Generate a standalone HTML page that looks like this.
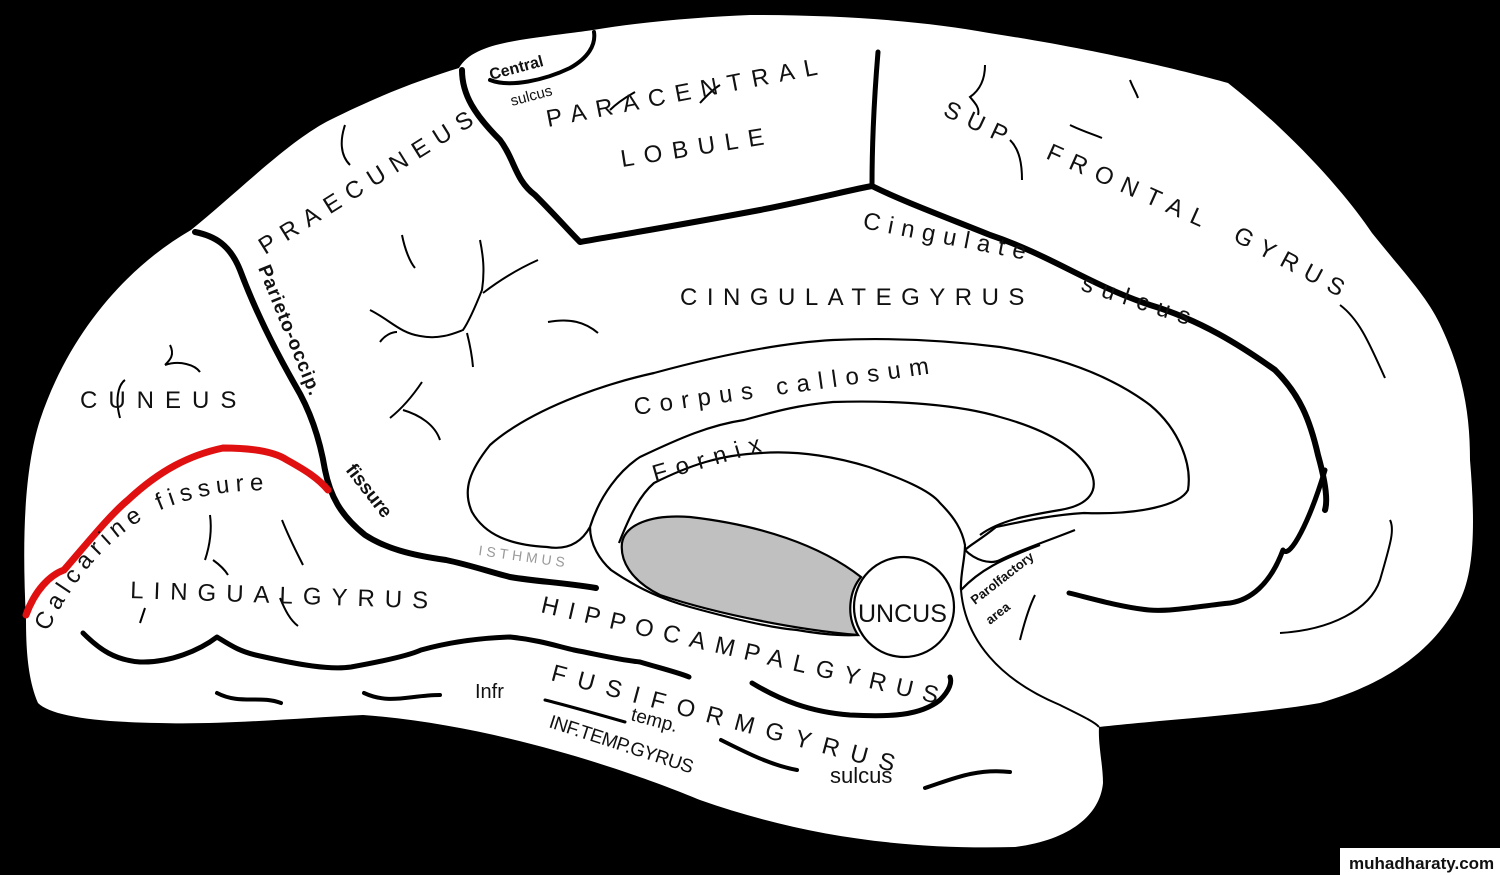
<!DOCTYPE html>
<html><head><meta charset="utf-8"><style>
html,body{margin:0;padding:0;background:#000;}
svg{display:block}
text{font-family:"Liberation Sans",sans-serif;fill:#111;}
</style></head><body>
<svg width="1500" height="875" viewBox="0 0 1500 875" xmlns="http://www.w3.org/2000/svg">
<rect width="1500" height="875" fill="#000"/>
<path d="M26,620 C22,540 24,470 40,420 C70,330 130,265 191,230 C240,190 290,140 330,120 C380,95 420,80 459,68 C468,52 490,45 520,40 C560,34 580,32 593,30 C640,22 700,17 750,15 C850,15 930,22 989,33 C1100,50 1180,70 1228,83 C1300,140 1350,200 1372,233 C1410,280 1430,300 1444,333 C1465,380 1470,420 1470,460 C1475,520 1475,570 1460,600 C1440,640 1400,680 1320,703 C1250,715 1160,720 1099,727 C1098,745 1103,765 1103,783 C1100,815 1070,840 1015,847 C900,850 800,835 700,800 C640,775 500,725 363,715 C300,718 220,725 159,723 C90,722 50,715 38,703 C28,680 26,650 26,620 Z" fill="#fff"/>
<!-- central sulcus -->
<path d="M490,80 C510,88 545,80 570,68 C588,58 596,45 594,32" fill="none" stroke="#000" stroke-width="4" stroke-linecap="round"/>
<g fill="none" stroke="#000" stroke-linecap="round" stroke-linejoin="round">
<path d="M462,70 C462,95 475,115 500,140 C515,160 515,180 535,195 C555,215 570,232 580,242 C620,235 680,225 760,210 C820,198 850,190 872,186 C900,200 940,215 990,235 C1050,255 1090,285 1150,305 C1200,320 1240,345 1275,370 C1300,395 1310,420 1318,455 C1325,480 1328,500 1325,510" stroke-width="6"/>
<path d="M872,186 C872,150 874,100 878,52" stroke-width="5"/>
<path d="M1325,470 C1310,520 1290,560 1283,550 C1270,585 1250,600 1230,603 C1200,606 1170,612 1149,610 C1120,607 1090,598 1069,593" stroke-width="5"/>
<path d="M195,232 C215,236 230,245 240,270 C255,310 275,350 295,385 C310,410 320,440 325,470 C330,495 340,515 365,535 C385,548 410,555 446,560 C470,565 490,572 510,577 C540,582 560,582 596,588" stroke-width="6"/>
<path d="M83,633 C100,650 115,660 140,662 C170,663 200,650 217,637 C230,645 240,652 260,656 C300,665 330,670 351,667 C390,660 410,655 421,650 C450,642 480,638 510,637 C540,640 560,647 574,650 C600,655 620,660 640,662 C660,668 680,673 689,677" stroke-width="5"/>
<path d="M217,693 C240,705 260,695 281,703" stroke-width="4"/>
<path d="M364,693 C390,705 410,695 440,695" stroke-width="4"/>
<path d="M545,700 C565,705 590,712 625,722" stroke-width="3"/>
<path d="M721,740 C745,752 770,765 797,770" stroke-width="4"/>
<path d="M925,788 C950,780 975,768 1010,772" stroke-width="4"/>
<path d="M752,683 C780,700 810,712 850,715 C890,717 920,716 940,700 C950,690 952,682 950,677" stroke-width="5"/>
</g>
<path d="M26,615 C35,590 50,575 64,570 C90,540 110,515 128,500 C160,470 190,455 223,448 C255,448 275,452 287,460 C305,470 318,478 328,490" fill="none" stroke="#e01010" stroke-width="7" stroke-linecap="round"/>
<g fill="none" stroke="#000" stroke-width="2.2">
<path d="M590,527 C580,545 565,550 547,547 C510,545 485,535 472,512 C462,490 470,470 490,445 C530,410 600,385 654,373 C720,355 780,343 833,340 C900,337 960,342 1000,347 C1060,357 1110,375 1150,405 C1180,430 1192,465 1188,490 C1180,505 1140,515 1084,513 C1050,515 1020,522 996,527 C980,540 970,545 965,550"/>
<path d="M590,527 C600,495 620,470 640,457 C680,438 710,425 744,420 C780,410 800,405 833,402 C900,400 960,405 1000,417 C1040,428 1075,445 1090,470 C1100,490 1090,505 1060,510 C1030,515 1000,520 980,535"/>
<path d="M619,543 C630,515 640,495 654,483 C690,465 720,455 761,453 C800,450 840,458 869,467 C900,478 930,490 940,503 C955,518 962,530 965,545 C965,560 960,575 961,590"/>
<path d="M590,527 C590,545 600,560 611,570 C640,590 665,600 690,607 C730,618 770,628 797,630 C820,634 840,636 858,635"/>
<path d="M965,550 C975,560 990,565 1000,560 C1020,550 1050,540 1075,530"/>
<path d="M961,590 C980,570 1000,560 1040,545"/>
</g>
<path d="M622,543 C625,525 650,514 690,517 C760,525 820,545 861,577 C850,590 845,615 858,635 C800,630 720,615 660,595 C630,580 620,560 622,543 Z" fill="#c0c0c0" stroke="#000" stroke-width="2.2"/>
<circle cx="904" cy="607" r="50" fill="#fff" stroke="#000" stroke-width="2.2"/>
<path d="M961,590 C965,640 1000,680 1060,705 C1080,715 1095,722 1099,727" fill="none" stroke="#000" stroke-width="2"/>
<g fill="none" stroke="#000" stroke-width="2">
<path d="M370,310 C390,320 400,333 420,336 C440,340 455,333 463,330 C470,320 478,300 482,290 C485,270 483,255 480,240"/>
<path d="M483,293 C500,280 520,268 538,260"/>
<path d="M467,333 C470,345 472,355 473,367"/>
<path d="M380,342 C385,335 392,332 397,332"/>
<path d="M548,322 C570,318 585,322 598,333"/>
<path d="M422,382 C410,400 400,410 390,418"/>
<path d="M403,410 C420,415 435,425 440,440"/>
<path d="M402,235 C405,250 410,262 415,268"/>
<path d="M345,125 C340,140 340,155 350,165"/>
<path d="M170,345 C175,355 170,360 165,365 M165,365 C180,360 195,365 200,372"/>
<path d="M120,418 C115,400 118,385 125,380"/>
<path d="M210,515 C212,530 210,545 205,560 M213,560 C220,565 225,570 228,575"/>
<path d="M282,520 C290,540 298,555 303,565"/>
<path d="M280,598 C285,610 290,620 298,626"/>
<path d="M145,608 L140,623"/>
<path d="M985,65 C985,80 980,90 970,97 C975,103 980,108 978,115"/>
<path d="M1010,140 C1020,150 1022,165 1022,180"/>
<path d="M1070,125 C1080,130 1092,134 1102,138"/>
<path d="M1130,80 C1133,88 1136,92 1138,98"/>
<path d="M1340,305 C1360,320 1370,345 1385,378"/>
<path d="M1390,520 C1395,530 1390,545 1380,580 C1370,610 1330,630 1280,633"/>
<path d="M1020,640 C1025,620 1030,605 1035,595"/>
<path d="M610,110 C620,100 630,95 635,92"/>
<path d="M700,103 C710,92 715,88 720,85"/>
</g>
<defs><path id="calc" d="M48,632 C70,585 105,540 150,515 C200,490 260,485 335,495"/></defs>
<g font-size="24" letter-spacing="11">
<text x="80" y="408">CUNEUS</text>
<text transform="translate(265,255) rotate(-32)" letter-spacing="9">PRAECUNEUS</text>
<text transform="translate(548,127) rotate(-11)" letter-spacing="10">PARACENTRAL</text>
<text transform="translate(622,167) rotate(-9)" letter-spacing="10">LOBULE</text>
<text transform="translate(942,115) rotate(25)" letter-spacing="9">SUP</text>
<text transform="translate(1045,158) rotate(24)" letter-spacing="10">FRONTAL</text>
<text transform="translate(1232,240) rotate(28)" letter-spacing="9">GYRUS</text>
<text x="680" y="305" letter-spacing="9.5">CINGULATEGYRUS</text>
<text transform="translate(130,598) rotate(2)" letter-spacing="10">LINGUALGYRUS</text>
<text transform="translate(540,612) rotate(13)" letter-spacing="10">HIPPOCAMPALGYRUS</text>
<text transform="translate(550,680) rotate(15)" letter-spacing="12">FUSIFORMGYRUS</text>
</g>
<g font-size="24" letter-spacing="7">
<text transform="translate(862,228) rotate(11)" letter-spacing="8">Cingulate</text>
<text transform="translate(1080,290) rotate(18)" letter-spacing="9">sulcus</text>
<text transform="translate(635,415) rotate(-8)" letter-spacing="8.5">Corpus callosum</text>
<text transform="translate(655,482) rotate(-16)" letter-spacing="9">Fornix</text>
<text letter-spacing="6"><textPath href="#calc">Calcarine fissure</textPath></text>
</g>
<g font-size="19" font-weight="bold">
<text transform="translate(258,268) rotate(68)" letter-spacing="1">Parieto-occip.</text>
<text transform="translate(345,470) rotate(52)">fissure</text>
<text transform="translate(491,80) rotate(-15)" font-size="16">Central</text>
<text transform="translate(512,106) rotate(-15)" font-size="15" font-weight="normal">sulcus</text>
<text transform="translate(975,605) rotate(-38)" font-size="13">Parolfactory</text>
<text transform="translate(990,625) rotate(-38)" font-size="13">area</text>
</g>
<text transform="translate(478,555) rotate(8)" font-size="14" letter-spacing="4" style="fill:#999">ISTHMUS</text>
<text x="858" y="622" font-size="25">UNCUS</text>
<text x="475" y="698" font-size="20">Infr</text>
<text transform="translate(630,720) rotate(15)" font-size="19">temp.</text>
<text transform="translate(548,727) rotate(18)" font-size="19" letter-spacing="-0.5">INF.TEMP.GYRUS</text>
<text x="830" y="783" font-size="22">sulcus</text>
<rect x="1340" y="848" width="160" height="27" fill="#fff"/>
<text x="1349" y="869" font-size="17" font-weight="bold">muhadharaty.com</text>
</svg>
</body></html>
